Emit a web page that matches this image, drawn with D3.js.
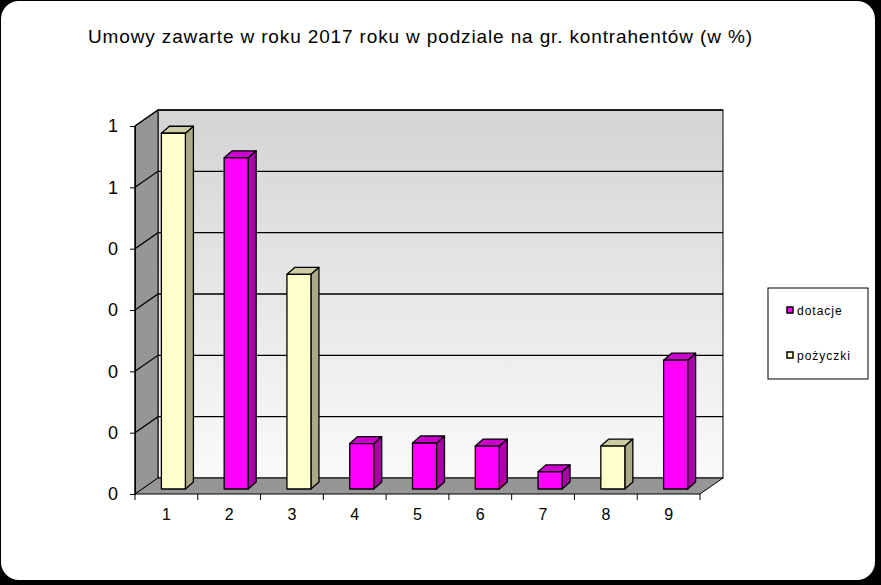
<!DOCTYPE html>
<html>
<head>
  <meta charset="utf-8">
  <style>
    body { margin: 0; background: #000; }
    svg { display: block; font-family: Arial, "Liberation Sans", sans-serif; }
  </style>
</head>
<body>
  <svg id="chart" width="881" height="585"></svg>
  <script src="https://d3js.org/d3.v7.min.js"></script>
  <script>
    // DATA
    var categories = ['1', '2', '3', '4', '5', '6', '7', '8', '9'];
    var dotacje   = [null, 0.54, null, 0.074, 0.075, 0.07, 0.028, null, 0.21];
    var pozyczki  = [0.58, null, 0.35, null, null, null, null, 0.07, null];
    var yTicks    = [0, 0.1, 0.2, 0.3, 0.4, 0.5, 0.6];
    var seriesNames = ['dotacje', 'pożyczki'];

    var svg = d3.select('#chart');

    // frame
    svg.append('rect')
      .attr('x', 1).attr('y', 1)
      .attr('width', 874).attr('height', 579)
      .attr('rx', 18)
      .style('fill', '#fff');

    svg.append('text')
      .attr('x', 420).attr('y', 43)
      .attr('text-anchor', 'middle')
      .style('font-size', '19px')
      .attr('textLength', 664)
      .text('Umowy zawarte w roku 2017 roku w podziale na gr. kontrahentów (w %)');

    // LAYOUT
    var x0 = 135, x1 = 700, yBase = 494, yTop = 126;
    var dx = 23, dy = -16;
    var yMax = 0.6;

    var x = d3.scaleBand().domain(categories).range([x0, x1]);
    var y = d3.scaleLinear().domain([0, yMax]).range([yBase, yTop]);

    var defs = svg.append('defs');
    var grad = defs.append('linearGradient')
      .attr('id', 'wall').attr('x1', 0).attr('y1', 0).attr('x2', 0).attr('y2', 1);
    grad.append('stop').attr('offset', 0).attr('stop-color', '#d4d4d4');
    grad.append('stop').attr('offset', 1).attr('stop-color', '#fafafa');

    // back wall
    svg.append('rect')
      .attr('x', x0 + dx).attr('y', y(yMax) + dy)
      .attr('width', x1 - x0).attr('height', y(0) - y(yMax))
      .style('fill', 'url(#wall)')
      .style('stroke', '#000').style('stroke-width', 1);

    // side wall
    svg.append('path')
      .attr('d', `M${x0},${y(0)}L${x0},${y(yMax)}L${x0 + dx},${y(yMax) + dy}L${x0 + dx},${y(0) + dy}Z`)
      .style('fill', '#969696').style('stroke', '#000');

    // floor
    svg.append('path')
      .attr('d', `M${x0},${y(0)}L${x1},${y(0)}L${x1 + dx},${y(0) + dy}L${x0 + dx},${y(0) + dy}Z`)
      .style('fill', '#969696').style('stroke', '#000');

    // gridlines
    yTicks.slice(1).forEach(function(t) {
      svg.append('path')
        .attr('d', `M${x0},${y(t)}L${x0 + dx},${y(t) + dy}L${x1 + dx},${y(t) + dy}`)
        .style('fill', 'none').style('stroke', '#000').style('stroke-width', 1.3);
    });

    // axes (labels rounded to whole numbers, half up)
    var yAxis = svg.append('g')
      .attr('transform', `translate(${x0},0)`)
      .call(d3.axisLeft(y).tickValues(yTicks).tickSize(5).tickPadding(12)
        .tickFormat(d => String(Math.floor(d + 0.5 + 1e-9))));
    yAxis.selectAll('text').style('font-size', '18px');

    var xAxis = svg.append('g')
      .attr('transform', `translate(0,${yBase})`)
      .call(d3.axisBottom(x).tickSize(0).tickPadding(15));
    xAxis.select('.domain').remove();
    xAxis.selectAll('text').style('font-size', '16px');
    xAxis.selectAll('.edge')
      .data(d3.range(categories.length + 1))
      .enter().append('line')
        .attr('x1', i => x0 + i * x.step()).attr('x2', i => x0 + i * x.step())
        .attr('y1', 0).attr('y2', 6)
        .style('stroke', '#000');
    svg.append('line')
      .attr('x1', x0).attr('x2', x0).attr('y1', y(0)).attr('y2', y(yMax))
      .style('stroke', '#000');

    // bars
    var bw = 24, ox = 7, oy = -5, bdx = 8, bdy = -7;
    var colors = {
      dotacje: { front: '#ff00ff', side: '#aa00aa', top: '#cc00cc' },
      'pożyczki': { front: '#ffffcc', side: '#aaaa88', top: '#cccca3' }
    };

    var bars = [];
    categories.forEach(function(c, i) {
      if (dotacje[i] != null) bars.push({ c: c, v: dotacje[i], s: 'dotacje' });
      if (pozyczki[i] != null) bars.push({ c: c, v: pozyczki[i], s: 'pożyczki' });
    });

    var bar = svg.append('g').selectAll('g')
      .data(bars).enter().append('g')
        .style('stroke', '#000').style('stroke-width', 1.3).style('stroke-linejoin', 'round');

    bar.each(function(d) {
      var g = d3.select(this);
      var left = x(d.c) + x.bandwidth() / 2 - bw / 2 + ox;
      var bot = y(0) + oy, top = y(d.v) + oy;
      var col = colors[d.s];
      g.append('path')
        .attr('d', `M${left + bw},${bot}L${left + bw + bdx},${bot + bdy}L${left + bw + bdx},${top + bdy}L${left + bw},${top}Z`)
        .style('fill', col.side);
      g.append('path')
        .attr('d', `M${left},${top}L${left + bdx},${top + bdy}L${left + bw + bdx},${top + bdy}L${left + bw},${top}Z`)
        .style('fill', col.top);
      g.append('rect')
        .attr('x', left).attr('y', top).attr('width', bw).attr('height', bot - top)
        .style('fill', col.front);
    });

    // legend
    var legend = svg.append('g');
    legend.append('rect')
      .attr('x', 768).attr('y', 288).attr('width', 100).attr('height', 91)
      .style('fill', '#fff').style('stroke', '#000');
    seriesNames.forEach(function(s, i) {
      var ly = 311 + i * 45;
      legend.append('rect')
        .attr('x', 787).attr('y', ly - 4).attr('width', 6).attr('height', 6)
        .style('fill', colors[s].front).style('stroke', '#000').style('stroke-width', 1.5);
      legend.append('text')
        .attr('x', 797).attr('y', ly + 4)
        .style('font-size', '12px').style('letter-spacing', '1px')
        .text(s);
    });
  </script>
</body>
</html>
